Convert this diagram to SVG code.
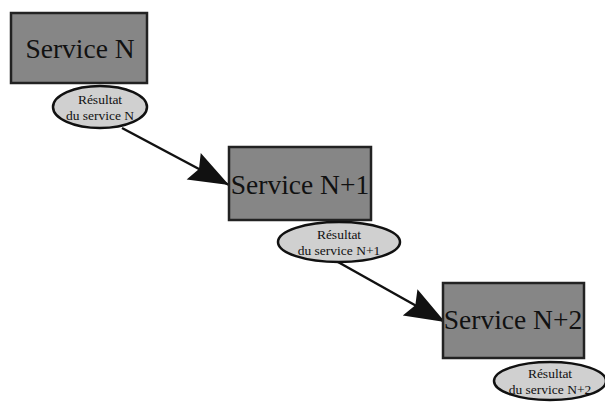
<svg xmlns="http://www.w3.org/2000/svg" width="605" height="403" viewBox="0 0 605 403">
<style>
.box{fill:#868686;stroke:#222;stroke-width:2.5}
.ell{fill:#d0d0d0;stroke:#111;stroke-width:2.5}
.bt{font-family:"Liberation Serif",serif;font-size:27.5px;fill:#111;text-anchor:middle}
.et{font-family:"Liberation Serif",serif;font-size:13.5px;fill:#111;text-anchor:middle}
.conn{stroke:#111;stroke-width:2.5;fill:none}
</style>
<defs>
<marker id="ah" markerUnits="userSpaceOnUse" markerWidth="50" markerHeight="40" viewBox="-42 -20 44 40" refX="0" refY="0" orient="auto">
<polygon points="0,0 -40,-15 -34,0 -40,15" fill="#111"/>
</marker>
</defs>
<rect width="605" height="403" fill="#fff"/>
<g id="connectors">
<line class="conn" x1="122" y1="128" x2="229" y2="185" marker-end="url(#ah)"/>
<line class="conn" x1="338" y1="262" x2="445" y2="322" marker-end="url(#ah)"/>
</g>
<g id="service-n">
<rect class="box" x="11" y="13" width="136" height="70"/>
<text class="bt" x="80" y="58">Service N</text>
</g>
<g id="resultat-n">
<ellipse class="ell" cx="100" cy="107" rx="47" ry="21"/>
<text class="et" x="100" y="104">Résultat</text>
<text class="et" x="100" y="120">du service N</text>
</g>
<g id="service-n1">
<rect class="box" x="229" y="147" width="142" height="73"/>
<text class="bt" x="300" y="194">Service N+1</text>
</g>
<g id="resultat-n1">
<ellipse class="ell" cx="339" cy="242" rx="61" ry="20"/>
<text class="et" x="339" y="239">Résultat</text>
<text class="et" x="339" y="255">du service N+1</text>
</g>
<g id="service-n2">
<rect class="box" x="443" y="283" width="141" height="75"/>
<text class="bt" x="513" y="329">Service N+2</text>
</g>
<g id="resultat-n2">
<ellipse class="ell" cx="550" cy="381" rx="56" ry="19"/>
<text class="et" x="550" y="378">Résultat</text>
<text class="et" x="550" y="394">du service N+2</text>
</g>
</svg>
